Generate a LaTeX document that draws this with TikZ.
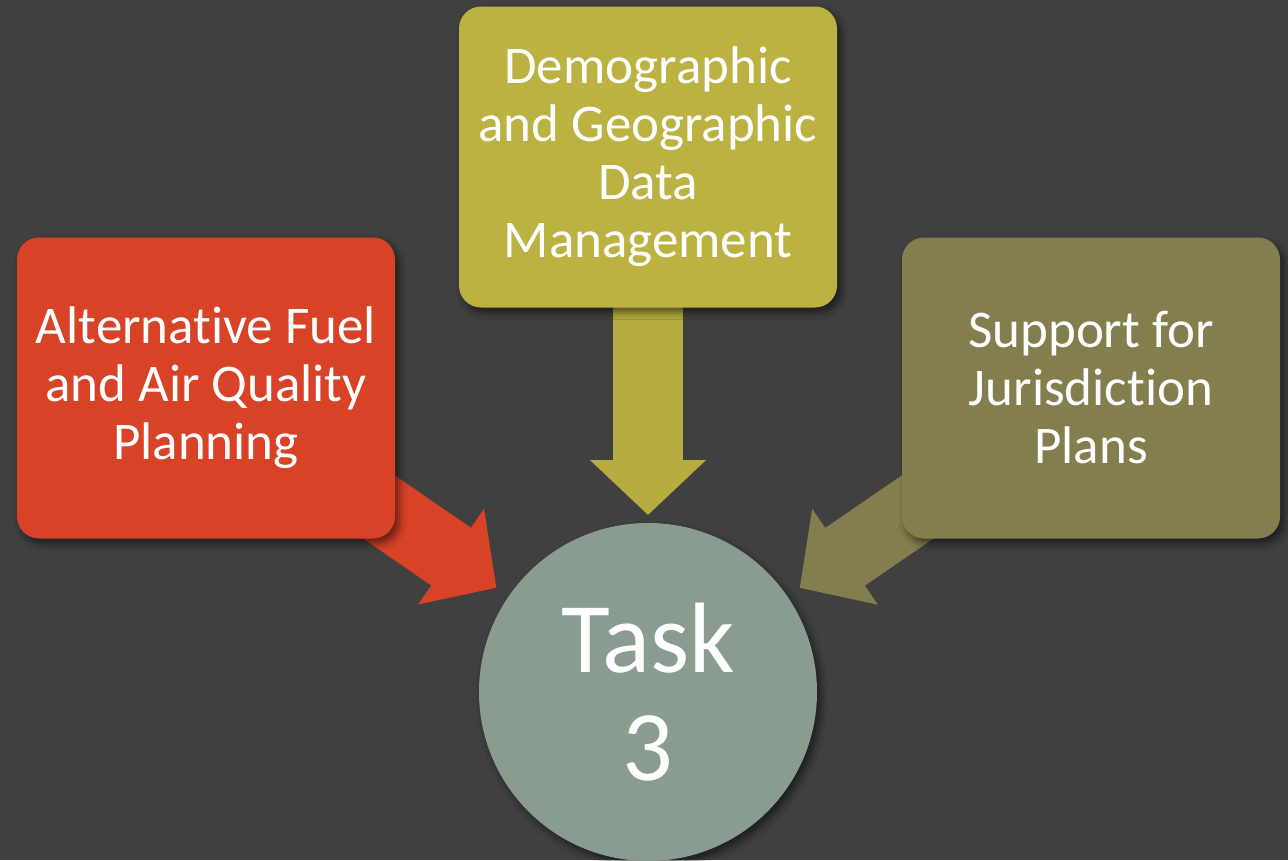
\documentclass[tikz,border=0pt]{standalone}
\usepackage{fontspec}
\setmainfont{Carlito}[Ligatures=CommonOff]
\usetikzlibrary{arrows.meta,shadows.blur,calc}

\definecolor{slate}{RGB}{64,64,64}
\definecolor{fuelred}{RGB}{216,66,38}
\definecolor{geomustard}{RGB}{187,178,66}
\definecolor{jurolive}{RGB}{131,126,77}
\definecolor{tasksage}{RGB}{137,156,143}

\pgfdeclarelayer{front}
\pgfsetlayers{main,front}

\begin{document}
\begin{tikzpicture}[x=1pt, y=-1pt,
        topic/.style={rectangle, rounded corners=22pt, minimum width=378pt, minimum height=301pt,
        text=white, align=center, font=\fontsize{53}{58}\selectfont,
        blur shadow={shadow xshift=4pt, shadow yshift=-5pt, shadow blur radius=7pt, shadow opacity=55}},
        task/.style={circle, minimum size=338pt, fill=tasksage, text=white, align=center,
        font=\fontsize{100}{108}\selectfont,
        blur shadow={shadow xshift=4pt, shadow yshift=-5pt, shadow blur radius=7pt, shadow opacity=55}},
        feed/.style={line width=70pt, -{Triangle[length=55pt, width=113pt]}}]
    \fill[slate] (0,0) rectangle (1288,860);
    \useasboundingbox (0,0) rectangle (1288,860);

    \begin{pgfonlayer}{front}
        \node [topic, fill=geomustard] (geo) at (648,157) {Demographic\\and Geographic\\Data\\Management};
        \node [topic, fill=fuelred] (fuel) at (206,388) {Alternative Fuel\\and Air Quality\\Planning};
        \node [topic, fill=jurolive] (jur) at (1091,388) {Support for\\Jurisdiction\\Plans};
        \node [task] (task3) at (648,692) {Task\\3};
    \end{pgfonlayer}

    % arrows sit under the boxes
    \draw [feed, draw=fuelred, shorten >=184pt] (fuel.center) -- (task3.center);
    \draw [feed, draw=geomustard!97!black, shorten >=177pt] (geo.center) -- (task3.center);
    \draw [feed, draw=jurolive, shorten >=184pt] (jur.center) -- (task3.center);
\end{tikzpicture}
\end{document}
